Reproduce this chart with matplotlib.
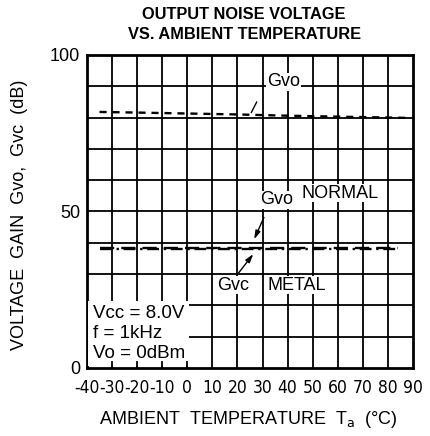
'''
Voltage gain vs ambient temperature, redrawn from a datasheet figure.
'''

# Imports

import matplotlib
matplotlib.use("Agg")
import matplotlib.pyplot as plt

# Data

temp_gvo = [-35, -20, 0, 20, 40, 60, 88]
gain_gvo = [81.8, 81.6, 81.3, 81.0, 80.6, 80.3, 79.9]

temp_normal = [-35, 0, 40, 84]
gain_normal = [38.3, 38.3, 38.3, 38.3]

temp_metal = [-35, 0, 40, 84]
gain_metal = [38.0, 38.0, 38.0, 38.0]

x_ticks = [-40, -30, -20, -10, 0, 10, 20, 30, 40, 50, 60, 70, 80, 90]
y_ticks = [0, 50, 100]
y_grid = [10, 20, 30, 40, 50, 60, 70, 80, 90]

# Plot

plt.rcParams["font.family"] = ["Liberation Sans", "DejaVu Sans"]

fig = plt.figure(figsize=(4.30, 4.36), dpi=100)
ax = fig.add_axes([0.2023, 0.156, 0.7582, 0.7179])

ax.set_xlim(-40, 90)
ax.set_ylim(0, 100)

# heavy datasheet-style grid
for xv in x_ticks[1:-1]:
    ax.axvline(xv, color="black", lw=1.3, zorder=1)
for yv in y_grid:
    ax.axhline(yv, color="black", lw=1.3, zorder=1)

ax.plot(temp_gvo, gain_gvo, color="black", lw=1.7, ls=(0, (3, 2.5)), zorder=3)
ax.plot(temp_normal, gain_normal, color="black", lw=1.7, ls=(0, (6, 3)), zorder=3)
ax.plot(temp_metal, gain_metal, color="black", lw=1.7, ls=(0, (5, 2, 1, 2)), zorder=3)

for s in ax.spines.values():
    s.set_linewidth(2)

ax.set_xticks(x_ticks)
ax.set_xticklabels([str(v) for v in x_ticks], fontsize=12.5,
                   family="DejaVu Sans", fontstretch="condensed")
ax.set_yticks(y_ticks)
ax.set_yticklabels([str(v) for v in y_ticks], fontsize=13)
ax.tick_params(length=0)
ax.tick_params(axis="x", pad=8)
ax.tick_params(axis="y", pad=5)

box = dict(facecolor="white", edgecolor="none", pad=0.5)

# Gvo label with leader
ax.text(31.8, 91.4, "Gvo", fontsize=13, ha="left", va="center", bbox=box, zorder=4)
ax.annotate("", xy=(25.0, 80.8), xytext=(28.2, 85.8),
            arrowprops=dict(arrowstyle="-", color="black", lw=1), zorder=4)

# NORMAL / METAL labels with arrows
ax.text(29, 53.7, "Gvo", fontsize=13, ha="left", va="center", bbox=box, zorder=4)
ax.text(45.7, 55.9, "NORMAL", fontsize=13, ha="left", va="center", bbox=box, zorder=4)
ax.annotate("", xy=(26.2, 40.3), xytext=(31.0, 48.9),
            arrowprops=dict(arrowstyle="-|>,head_length=0.5,head_width=0.15",
                            color="black", lw=1), zorder=4)
ax.text(11.8, 26.5, "Gvc", fontsize=13, ha="left", va="center", bbox=box, zorder=4)
ax.text(31.8, 26.5, "METAL", fontsize=13, ha="left", va="center", bbox=box, zorder=4)
ax.annotate("", xy=(27.0, 37.1), xytext=(19.8, 29.7),
            arrowprops=dict(arrowstyle="-|>,head_length=0.5,head_width=0.15",
                            color="black", lw=1), zorder=4)

# conditions box
ax.text(-37.8, 2.0, "Vcc = 8.0V\nf = 1kHz\nVo = 0dBm", fontsize=13.5,
        ha="left", va="bottom", linespacing=1.22,
        bbox=dict(facecolor="white", edgecolor="none", pad=3), zorder=4)
for xv in x_ticks[1:5]:
    ax.plot([xv, xv], [0, 1.8], color="black", lw=1.3, zorder=5)

fig.text(0.568, 0.967, "OUTPUT NOISE VOLTAGE", fontsize=11.8, fontweight="bold",
         ha="center", va="center")
fig.text(0.568, 0.922, "VS. AMBIENT TEMPERATURE", fontsize=11.8, fontweight="bold",
         ha="center", va="center")

fig.text(0.578, 0.037, r"AMBIENT  TEMPERATURE  T$_{\mathrm{a}}$  (°C)", fontsize=13,
         ha="center", va="center")
fig.text(0.045, 0.507, "VOLTAGE  GAIN  Gvo,  Gvc  (dB)", fontsize=13,
         rotation=90, ha="center", va="center")

fig.savefig("out.png", dpi=100)
